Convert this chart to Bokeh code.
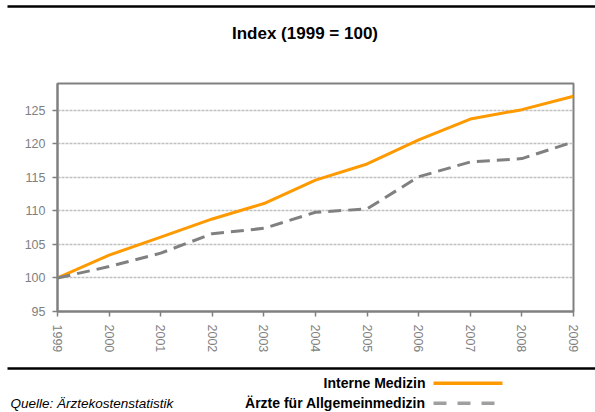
from bokeh.plotting import figure
from bokeh.layouts import column
from bokeh.models import Range1d, FixedTicker
from bokeh.core.properties import value
from bokeh.embed import file_html
from bokeh.resources import INLINE

years = [1999, 2000, 2001, 2002, 2003, 2004, 2005, 2006, 2007, 2008, 2009]
interne_medizin = [100, 103.4, 106.1, 108.8, 111.1, 114.6, 117.0, 120.6, 123.7, 125.1, 127.1]
allgemeinmedizin = [100, 101.7, 103.7, 106.6, 107.4, 109.8, 110.3, 115.1, 117.3, 117.8, 120.3]
y_ticks = [95, 100, 105, 110, 115, 120, 125]
year_labels = [str(y) for y in years]
series_names = ["Interne Medizin", "Ärzte für Allgemeinmedizin"]
title_text = "Index (1999 = 100)"
source_text = "Quelle: Ärztekostenstatistik"

FONT = "Liberation Sans"
ORANGE = "#FF9900"
GRAY = "#808080"
W = 595


def pixel_fig(h):
    f = figure(width=W, height=h, output_backend="svg", toolbar_location=None,
               x_range=Range1d(0, W), y_range=Range1d(h, 0), min_border=0,
               frame_align=False)
    f.axis.visible = False
    f.grid.grid_line_color = None
    f.outline_line_color = None
    f.background_fill_color = "white"
    f.border_fill_color = "white"
    return f


# ---- top: rule + title
top = pixel_fig(70)
top.segment(x0=[7], y0=[6], x1=[W], y1=[6], line_color="black", line_width=2.5)
top.text(x=[304.5], y=[33], text=[title_text], text_font=value(FONT), text_font_size="17px",
         text_font_style="bold", text_align="center", text_baseline="middle", text_color="black")

# ---- main chart
p = figure(width=W, height=290, output_backend="svg", toolbar_location=None,
           x_range=Range1d(1999, 2009), y_range=Range1d(95, 129), frame_align=False,
           min_border_left=57, min_border_right=22, min_border_top=13, min_border_bottom=49)
p.outline_line_color = GRAY
p.outline_line_width = 2
p.background_fill_color = "white"
p.border_fill_color = "white"
p.xgrid.grid_line_color = None
p.ygrid.grid_line_color = "#c0c0c0"
p.ygrid.grid_line_width = 1.5
p.ygrid.grid_line_dash = "3 1"

for ax in (p.xaxis[0], p.yaxis[0]):
    ax.axis_line_color = GRAY
    ax.axis_line_width = 2
    ax.major_tick_line_color = GRAY
    ax.major_tick_line_width = 1.5
    ax.major_tick_out = 5
    ax.major_tick_in = 0
    ax.minor_tick_line_color = None
    ax.major_label_text_color = GRAY
    ax.major_label_text_font = FONT
    ax.major_label_text_font_size = "12.5px"

p.xaxis.ticker = FixedTicker(ticks=years)
p.xaxis.major_label_overrides = {y: s for y, s in zip(years, year_labels)}
p.xaxis.major_label_orientation = "vertical"
p.xaxis.major_label_standoff = 8
p.yaxis.ticker = FixedTicker(ticks=y_ticks)
p.yaxis.major_label_standoff = 7

p.line(years, interne_medizin, line_color=ORANGE, line_width=3)
p.line(years, allgemeinmedizin, line_color=GRAY, line_width=3, line_dash="13 7")

# ---- bottom: rule + legend + source
bot = pixel_fig(52)
bot.segment(x0=[7], y0=[8], x1=[W], y1=[8], line_color="black", line_width=2.5)
rows_y = [22.7, 42.7]
bot.text(x=[425, 425], y=rows_y, text=series_names, text_font=value(FONT), text_font_size="14px",
         text_font_style="bold", text_align="right", text_baseline="middle", text_color="black")
bot.segment(x0=[433], y0=[rows_y[0]], x1=[502], y1=[rows_y[0]], line_color=ORANGE, line_width=3.5)
bot.segment(x0=[433], y0=[rows_y[1]], x1=[502], y1=[rows_y[1]], line_color="#a0a0a0",
            line_width=3.5, line_dash="13 11")
bot.text(x=[10], y=[43], text=[source_text], text_font=value(FONT), text_font_size="13.5px",
         text_font_style="italic", text_align="left", text_baseline="middle", text_color="black")

layout = column(top, p, bot, spacing=0)
open("out.html", "w").write(file_html(layout, INLINE))
